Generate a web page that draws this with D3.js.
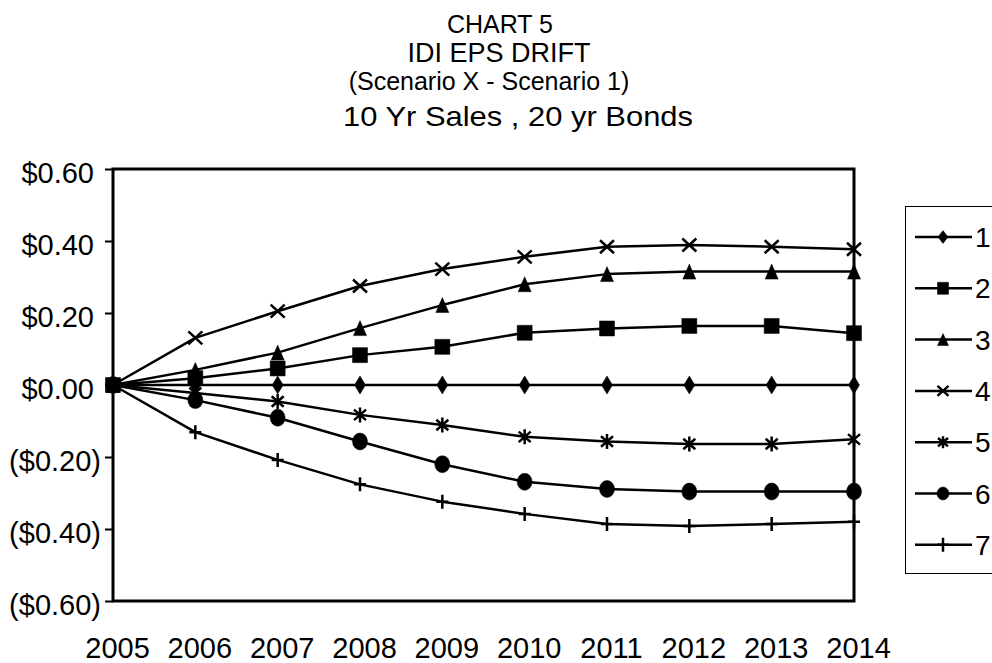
<!DOCTYPE html>
<html>
<head>
<meta charset="utf-8">
<script src="https://cdn.jsdelivr.net/npm/d3@7"></script>
<style>
  html, body { margin: 0; padding: 0; background: #fff; }
  svg { display: block; font-family: "Liberation Sans", Arial, sans-serif; }
</style>
</head>
<body>
<svg id="chart" width="992" height="663"></svg>
<script>
// Years along the x axis
const years = [2005, 2006, 2007, 2008, 2009, 2010, 2011, 2012, 2013, 2014];

// EPS drift per scenario (Scenario X - Scenario 1), dollars per share
const scenario1 = [0, 0, 0, 0, 0, 0, 0, 0, 0, 0];
const scenario2 = [0, 0.019, 0.046, 0.083, 0.106, 0.145, 0.157, 0.164, 0.164, 0.144];
const scenario3 = [0, 0.042, 0.090, 0.158, 0.222, 0.280, 0.308, 0.315, 0.315, 0.315];
const scenario4 = [0, 0.131, 0.205, 0.275, 0.322, 0.356, 0.384, 0.389, 0.384, 0.377];
const scenario5 = [0, -0.022, -0.046, -0.083, -0.111, -0.144, -0.157, -0.164, -0.164, -0.151];
const scenario6 = [0, -0.042, -0.091, -0.157, -0.220, -0.269, -0.289, -0.296, -0.296, -0.296];
const scenario7 = [0, -0.131, -0.208, -0.276, -0.324, -0.358, -0.386, -0.392, -0.386, -0.380];

const seriesNames = ["1", "2", "3", "4", "5", "6", "7"];
const seriesValues = [scenario1, scenario2, scenario3, scenario4, scenario5, scenario6, scenario7];
const markerTypes = ["diamond", "square", "triangle", "cross", "asterisk", "circle", "plus"];

const yTicks = [-0.6, -0.4, -0.2, 0, 0.2, 0.4, 0.6];
const titleLines = ["CHART 5", "IDI EPS DRIFT", "(Scenario X - Scenario 1)", "10 Yr Sales , 20 yr Bonds"];

const svg = d3.select("#chart");
const plot = { left: 113, right: 854, top: 169, bottom: 601 };
const labelSize = 29;

const x = d3.scaleLinear().domain([years[0], years[years.length - 1]]).range([plot.left, plot.right]);
const y = d3.scaleLinear().domain([-0.6, 0.6]).range([plot.bottom, plot.top]);

// Money format: $0.40 and ($0.40)
const money = v => {
  const s = "$" + Math.abs(v).toFixed(2);
  return v < -1e-9 ? "(" + s + ")" : s;
};

// Title block: centre, baseline, font size, optional fitted width
const titleLayout = [
  { x: 500, y: 33, fs: 25 },
  { x: 499, y: 62, fs: 27 },
  { x: 489, y: 90, fs: 25 },
  { x: 518, y: 126, fs: 28, w: 350 }
];
svg.append("g").selectAll("text")
  .data(titleLines)
  .join("text")
  .attr("x", (d, i) => titleLayout[i].x)
  .attr("y", (d, i) => titleLayout[i].y)
  .attr("text-anchor", "middle")
  .attr("font-size", (d, i) => titleLayout[i].fs)
  .attr("textLength", (d, i) => titleLayout[i].w || null)
  .attr("lengthAdjust", "spacingAndGlyphs")
  .attr("fill", "#000")
  .text(d => d);

// Y axis with outside ticks and dollar labels
const yAxis = d3.axisLeft(y).tickValues(yTicks).tickSize(8).tickFormat("");
const gy = svg.append("g").attr("transform", `translate(${plot.left},0)`).call(yAxis);
gy.select(".domain").remove();
gy.selectAll(".tick text").remove();
gy.selectAll(".tick line").attr("stroke", "#000").attr("stroke-width", 2);
gy.selectAll(".tick").append("text")
  .attr("x", d => d < -1e-9 ? -12 : -19)
  .attr("dy", "0.46em")
  .attr("text-anchor", "end")
  .attr("font-size", labelSize)
  .attr("fill", "#000")
  .text(money);

// X axis labels (no tick marks)
const xAxis = d3.axisBottom(x).tickValues(years).tickSize(0).tickFormat("");
const gx = svg.append("g").attr("transform", `translate(0,${plot.bottom})`).call(xAxis);
gx.select(".domain").remove();
gx.selectAll(".tick text").remove();
gx.selectAll(".tick").append("text")
  .attr("x", 4)
  .attr("y", 57)
  .attr("text-anchor", "middle")
  .attr("font-size", labelSize)
  .attr("fill", "#000")
  .text(d3.format("d"));

// Marker shapes (w = width, h = height)
function markerPath(type, w, h) {
  const a = w / 2, b = h / 2;
  switch (type) {
    case "diamond":
      return `M0,${-b}L${a},0L0,${b}L${-a},0Z`;
    case "square":
      return `M${-a},${-b}H${a}V${b}H${-a}Z`;
    case "triangle":
      return `M0,${-b}L${a},${b}L${-a},${b}Z`;
    case "circle":
      return `M${-a},0A${a},${b} 0 1,0 ${a},0A${a},${b} 0 1,0 ${-a},0Z`;
    case "cross":
      return `M${-a},${-b}L${a},${b}M${a},${-b}L${-a},${b}`;
    case "asterisk":
      return `M${-a},${-b * 0.7}L${a},${b * 0.7}M${a},${-b * 0.7}L${-a},${b * 0.7}M0,${-b}V${b}`;
    case "plus":
      return `M${-a},0H${a}M0,${-b}V${b}`;
  }
}
const filled = t => ["diamond", "square", "triangle", "circle"].includes(t);
const markerSize = {
  diamond: [11, 18], square: [15, 15], triangle: [13, 15], circle: [15, 17],
  cross: [14, 13], asterisk: [12, 15], plus: [12, 14]
};
const legendMarkerSize = {
  diamond: [10, 13], square: [11, 12], triangle: [11, 12], circle: [12, 13],
  cross: [11, 10], asterisk: [10, 12], plus: [11, 14]
};

// Plot frame
svg.append("rect")
  .attr("x", plot.left).attr("y", plot.top)
  .attr("width", plot.right - plot.left).attr("height", plot.bottom - plot.top)
  .attr("fill", "none").attr("stroke", "#000").attr("stroke-width", 3);

// Series lines and markers
const line = d3.line().x((d, i) => x(years[i])).y(d => y(d));
const gSeries = svg.append("g");
seriesValues.forEach((vals, si) => {
  const g = gSeries.append("g");
  g.append("path")
    .attr("d", line(vals))
    .attr("fill", "none").attr("stroke", "#000").attr("stroke-width", 2.5)
    .attr("stroke-linejoin", "round");
  const t = markerTypes[si];
  const [w, h] = markerSize[t];
  g.selectAll("path.m")
    .data(vals)
    .join("path")
    .attr("class", "m")
    .attr("transform", (d, i) => `translate(${x(years[i])},${y(d)})`)
    .attr("d", markerPath(t, w, h))
    .attr("fill", filled(t) ? "#000" : "none")
    .attr("stroke", "#000")
    .attr("stroke-width", filled(t) ? 0.5 : 2.5);
});

// Legend
const legend = { left: 905, top: 206, width: 100, height: 367, first: 237, step: 51.3 };
svg.append("rect")
  .attr("x", legend.left + 0.5).attr("y", legend.top + 0.5)
  .attr("width", legend.width).attr("height", legend.height)
  .attr("fill", "#fff").attr("stroke", "#000").attr("stroke-width", 1);
const li = svg.append("g").selectAll("g")
  .data(seriesNames)
  .join("g")
  .attr("transform", (d, i) => `translate(0,${legend.first + i * legend.step})`);
li.append("line")
  .attr("x1", 915).attr("x2", 972).attr("y1", 0).attr("y2", 0)
  .attr("stroke", "#000").attr("stroke-width", 2.5);
li.append("path")
  .attr("transform", "translate(943,0)")
  .attr("d", (d, i) => { const t = markerTypes[i]; const [w, h] = legendMarkerSize[t]; return markerPath(t, w, h); })
  .attr("fill", (d, i) => filled(markerTypes[i]) ? "#000" : "none")
  .attr("stroke", "#000")
  .attr("stroke-width", (d, i) => filled(markerTypes[i]) ? 0.5 : 2.5);
li.append("text")
  .attr("x", 975).attr("y", 0).attr("dy", "0.36em")
  .attr("font-size", 28).attr("fill", "#000")
  .text(d => d);
</script>
</body>
</html>
